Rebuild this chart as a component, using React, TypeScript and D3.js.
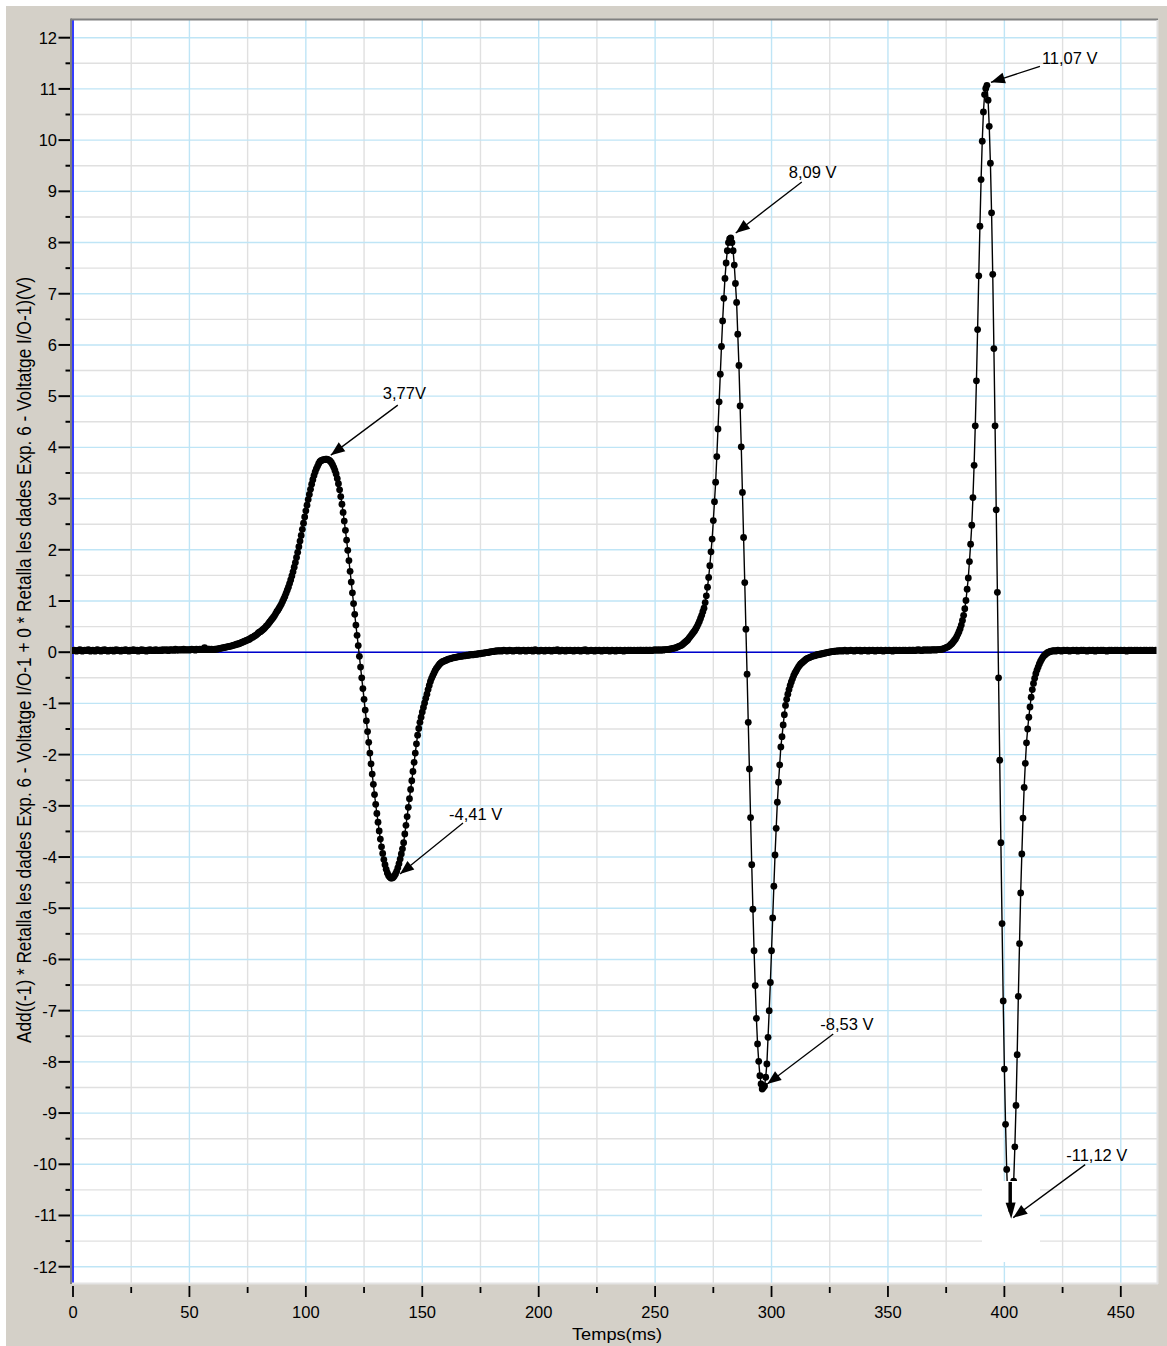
import React from "react";
import * as d3 from "d3";

// Sampling interval of the logger (ms)
const SAMPLE_MS = 0.5;

// Recorded voltage (V), one array per stretch of the record, each with its start time (ms)
const baselineA = [
  0.03, 0.04, 0.03, 0.02, 0.03, 0.04, 0.05, 0.03, 0.02, 0.03,
  0.04, 0.03, 0.03, 0.05, 0.04, 0.02, 0.03, 0.04, 0.03, 0.02,
  0.04, 0.05, 0.03, 0.03, 0.02, 0.04, 0.03, 0.05, 0.04, 0.03,
  0.02, 0.03, 0.04, 0.03, 0.04, 0.02, 0.03, 0.05, 0.03, 0.04,
  0.03, 0.02, 0.04, 0.03, 0.03, 0.05, 0.04, 0.03, 0.02, 0.04,
  0.03, 0.04, 0.05, 0.03, 0.03, 0.04, 0.02, 0.03, 0.04, 0.05,
  0.03, 0.04, 0.03, 0.02, 0.04, 0.03, 0.05, 0.04, 0.03, 0.04,
  0.03, 0.05, 0.04, 0.03, 0.04, 0.04, 0.03, 0.05, 0.04, 0.04,
  0.05, 0.04, 0.03, 0.05, 0.04, 0.05, 0.04, 0.04, 0.06, 0.04,
  0.05, 0.04, 0.05, 0.05, 0.04, 0.06, 0.05, 0.04, 0.05, 0.05,
  0.04, 0.05, 0.06, 0.05, 0.05, 0.04, 0.06, 0.05, 0.05, 0.06,
  0.05, 0.06, 0.05, 0.09, 0.06, 0.05, 0.06, 0.06, 0.05, 0.06,
];
const baselineAStart = 0;

const pulse1 = [
  0.05, 0.05, 0.06, 0.06, 0.06, 0.07, 0.07, 0.08, 0.08, 0.09,
  0.09, 0.10, 0.10, 0.11, 0.11, 0.12, 0.12, 0.13, 0.14, 0.14,
  0.15, 0.16, 0.16, 0.17, 0.18, 0.19, 0.20, 0.21, 0.22, 0.23,
  0.24, 0.25, 0.26, 0.28, 0.29, 0.30, 0.32, 0.33, 0.35, 0.37,
  0.39, 0.40, 0.42, 0.44, 0.46, 0.48, 0.51, 0.53, 0.56, 0.59,
  0.62, 0.65, 0.68, 0.71, 0.75, 0.79, 0.82, 0.86, 0.90, 0.94,
  0.99, 1.04, 1.09, 1.15, 1.21, 1.27, 1.34, 1.41, 1.49, 1.57,
  1.66, 1.75, 1.85, 1.95, 2.06, 2.17, 2.28, 2.40, 2.52, 2.64,
  2.76, 2.87, 2.98, 3.08, 3.18, 3.28, 3.37, 3.45, 3.52, 3.58,
  3.63, 3.68, 3.72, 3.74, 3.75, 3.76, 3.76, 3.77,
  3.77, 3.76, 3.75, 3.73, 3.70, 3.66, 3.61, 3.55, 3.48, 3.39,
  3.29, 3.17, 3.04, 2.89, 2.73, 2.56, 2.38, 2.19, 1.99, 1.79,
  1.58, 1.37, 1.16, 0.95, 0.74, 0.53, 0.33, 0.13, -0.08, -0.29,
  -0.50, -0.71, -0.92, -1.13, -1.34, -1.55, -1.76, -1.97, -2.18, -2.38,
  -2.58, -2.78, -2.97, -3.15, -3.32, -3.49, -3.65, -3.80, -3.93, -4.05,
  -4.15, -4.24, -4.31, -4.36, -4.39, -4.41, -4.41, -4.40, -4.37, -4.33,
  -4.28, -4.21, -4.13, -4.04, -3.94, -3.84, -3.72, -3.55, -3.38, -3.21,
  -3.03, -2.86, -2.68, -2.51, -2.33, -2.15, -1.97, -1.79, -1.62, -1.49,
  -1.37, -1.27, -1.17, -1.08, -0.99, -0.90, -0.82, -0.73, -0.65, -0.57,
  -0.51, -0.46, -0.41, -0.36, -0.32, -0.29, -0.26, -0.23, -0.21, -0.19,
  -0.18, -0.17, -0.16, -0.15, -0.14, -0.13, -0.13, -0.12, -0.11, -0.11,
  -0.10, -0.10, -0.09, -0.09, -0.08, -0.08, -0.08, -0.07, -0.07, -0.07,
  -0.06, -0.06, -0.06, -0.05, -0.05, -0.05, -0.05, -0.04, -0.04, -0.04,
  -0.03, -0.03, -0.03, -0.02, -0.02, -0.02, -0.01, -0.01, -0.01, 0.0,
  0.0, 0.01, 0.01, 0.01,
];
const pulse1Start = 60;

const baselineB = [
  0.02, 0.02, 0.03, 0.02, 0.03, 0.03, 0.02, 0.03, 0.04, 0.03,
  0.03, 0.02, 0.03, 0.04, 0.03, 0.03, 0.02, 0.03, 0.03, 0.04,
  0.03, 0.04, 0.02, 0.03, 0.03, 0.04, 0.03, 0.02, 0.03, 0.04,
  0.03, 0.03, 0.04, 0.02, 0.03, 0.05, 0.03, 0.03, 0.02, 0.03,
  0.04, 0.03, 0.03, 0.02, 0.04, 0.03, 0.03, 0.04, 0.03, 0.02,
  0.03, 0.04, 0.03, 0.03, 0.05, 0.03, 0.02, 0.03, 0.04, 0.03,
  0.03, 0.02, 0.04, 0.03, 0.03, 0.04, 0.03, 0.03, 0.02, 0.04,
  0.03, 0.03, 0.04, 0.03, 0.02, 0.03, 0.04, 0.03, 0.05, 0.03,
  0.02, 0.03, 0.03, 0.04, 0.03, 0.03, 0.02, 0.04, 0.03, 0.03,
  0.04, 0.03, 0.02, 0.03, 0.04, 0.03, 0.03, 0.04, 0.03, 0.02,
  0.03, 0.04, 0.03, 0.03, 0.02, 0.04, 0.03, 0.03, 0.04, 0.03,
  0.03, 0.02, 0.04, 0.03, 0.03, 0.04, 0.03, 0.04, 0.03, 0.03,
  0.04, 0.03, 0.03, 0.04, 0.03, 0.04, 0.04, 0.03, 0.04, 0.03,
  0.04, 0.04, 0.03, 0.04, 0.04, 0.03, 0.04, 0.04, 0.05, 0.04,
  0.04, 0.05, 0.04, 0.04, 0.05, 0.04, 0.05, 0.05,
];
const baselineBStart = 181;

const pulse2 = [
  0.05, 0.05, 0.06, 0.06, 0.07, 0.07, 0.08, 0.08, 0.09, 0.10,
  0.11, 0.12, 0.13, 0.14, 0.16, 0.18, 0.20, 0.22, 0.24, 0.27,
  0.30, 0.33, 0.36, 0.39, 0.42, 0.46, 0.50, 0.55, 0.60, 0.66,
  0.72, 0.79, 0.86, 0.97, 1.10, 1.27, 1.46, 1.69, 1.96, 2.21,
  2.57, 2.94, 3.32, 3.82, 4.36, 4.89, 5.43, 5.97, 6.47, 6.91,
  7.30, 7.60, 7.84, 8.00, 8.07, 8.09, 8.00, 7.84, 7.56, 7.20,
  6.83, 6.21, 5.60, 4.81, 4.01, 3.12, 2.24, 1.36, 0.45, -0.43,
  -1.37, -2.28, -3.23, -4.15, -5.02, -5.83, -6.51, -7.15, -7.65, -7.99,
  -8.27, -8.43, -8.53, -8.50, -8.47, -8.30, -8.04, -7.52, -7.00, -6.45,
  -5.83, -5.19, -4.57, -3.96, -3.44, -2.93, -2.54, -2.20, -1.85, -1.65,
  -1.42, -1.22, -1.04, -0.92, -0.82, -0.73, -0.65, -0.58, -0.52, -0.46,
  -0.41, -0.37, -0.33, -0.29, -0.26, -0.23, -0.21, -0.19, -0.17, -0.15,
  -0.13, -0.12, -0.11, -0.10, -0.09, -0.08, -0.07, -0.07, -0.06, -0.05,
  -0.05, -0.04, -0.04, -0.03, -0.03, -0.02, -0.02, -0.01, -0.01, 0.0,
  0.0, 0.01, 0.01,
];
const pulse2Start = 255;

const baselineC = [
  0.01, 0.02, 0.02, 0.02, 0.03, 0.02, 0.03, 0.03, 0.02, 0.03,
  0.04, 0.03, 0.02, 0.03, 0.03, 0.04, 0.03, 0.03, 0.02, 0.03,
  0.04, 0.03, 0.03, 0.04, 0.02, 0.03, 0.03, 0.04, 0.03, 0.03,
  0.02, 0.04, 0.03, 0.03, 0.04, 0.03, 0.02, 0.03, 0.04, 0.03,
  0.03, 0.04, 0.03, 0.02, 0.03, 0.04, 0.03, 0.03, 0.04, 0.03,
  0.03, 0.02, 0.04, 0.03, 0.04, 0.03, 0.03, 0.04, 0.03, 0.03,
  0.04, 0.03, 0.04, 0.03, 0.03, 0.04, 0.04, 0.03, 0.04, 0.04,
  0.03, 0.04, 0.04, 0.05, 0.04, 0.04, 0.03, 0.04, 0.05, 0.04,
  0.04, 0.05, 0.04, 0.04, 0.05, 0.04, 0.05, 0.05, 0.04, 0.05,
  0.05,
];
const baselineCStart = 326.5;

const pulse3 = [
  0.05, 0.05, 0.06, 0.06, 0.07, 0.08, 0.09, 0.10, 0.11, 0.13,
  0.15, 0.17, 0.20, 0.23, 0.26, 0.30, 0.35, 0.40, 0.46, 0.53,
  0.62, 0.72, 0.85, 1.01, 1.23, 1.45, 1.77, 2.11, 2.48, 3.02,
  3.65, 4.42, 5.30, 6.30, 7.35, 8.32, 9.23, 9.98, 10.55, 10.89,
  11.01, 11.07, 10.78, 10.27, 9.55, 8.58, 7.38, 5.93, 4.42, 2.78,
  1.17, -0.50, -2.11, -3.72, -5.30, -6.81, -8.14, -9.22, -10.10, -10.70,
  -11.02, -11.12, -11.05, -10.80, -10.33, -9.66, -8.85, -7.86, -6.72, -5.69,
  -4.70, -3.94, -3.24, -2.64, -2.17, -1.77, -1.50, -1.27, -1.07, -0.88,
  -0.73, -0.61, -0.51, -0.42, -0.35, -0.29, -0.23, -0.18, -0.14, -0.10,
  -0.07, -0.05, -0.03, -0.01, 0.0, 0.01, 0.02,
];
const pulse3Start = 372;

const baselineD = [
  0.02, 0.03, 0.03, 0.02, 0.03, 0.04, 0.03, 0.03, 0.02, 0.03,
  0.04, 0.03, 0.03, 0.04, 0.03, 0.02, 0.03, 0.03, 0.04, 0.03,
  0.03, 0.04, 0.02, 0.03, 0.03, 0.04, 0.03, 0.04, 0.03, 0.03,
  0.02, 0.03, 0.04, 0.03, 0.03, 0.04, 0.03, 0.02, 0.03, 0.04,
  0.03, 0.03, 0.04, 0.03, 0.04, 0.03, 0.03, 0.02, 0.03, 0.04,
  0.03, 0.04, 0.03, 0.03, 0.04, 0.03, 0.04, 0.03, 0.03, 0.04,
  0.03, 0.03, 0.04, 0.03, 0.02, 0.03, 0.04, 0.03, 0.04, 0.03,
  0.03, 0.04, 0.03, 0.04, 0.03, 0.03, 0.04, 0.03, 0.03, 0.04,
  0.03, 0.04, 0.03, 0.03, 0.04, 0.03, 0.04, 0.03, 0.03, 0.04,
  0.03, 0.04,
];
const baselineDStart = 420.5;

// Peak annotations
const peakTimes = [109, 137, 282.5, 296, 392.5, 402.5];
const peakValues = [3.77, -4.41, 8.09, -8.53, 11.07, -11.12];
const peakLabels = ["3,77V", "-4,41 V", "8,09 V", "-8,53 V", "11,07 V", "-11,12 V"];

// Axis ticks
const xMajorTicks = [0, 50, 100, 150, 200, 250, 300, 350, 400, 450];
const xMinorTicks = [25, 75, 125, 175, 225, 275, 325, 375, 425];
const yMajorTicks = d3.range(-12, 13, 1);
const yMinorTicks = d3.range(-11.5, 12, 1);

const xTitle = "Temps(ms)";
const yTitle =
  "Add((-1) * Retalla les dades Exp. 6 - Voltatge I/O-1 + 0 * Retalla les dades Exp. 6 - Voltatge I/O-1)(V)";

// Layout
const W = 1167;
const H = 1346;
const PLOT = { left: 72, right: 1157, top: 20, bottom: 1283 };
const FONT = "'Liberation Sans', Arial, Helvetica, sans-serif";
const FRAME = "#d4d0c8";
const GRID_MAJOR = "#bfe5f6";
const GRID_MINOR = "#e0e0e0";

// label placement relative to the annotated sample (px): text, arrow start, arrow tip
const labelOffsets = [
  { tx: 56, ty: -60, sx: 71, sy: -54, ex: 4, ey: -4 },
  { tx: 57, ty: -58, sx: 71, sy: -55, ex: 8, ey: -4 },
  { tx: 58, ty: -60, sx: 71, sy: -56, ex: 5, ey: -5 },
  { tx: 58, ty: -59, sx: 71, sy: -55, ex: 5, ey: -5 },
  { tx: 55, ty: -21, sx: 53, sy: -19, ex: 4, ey: -3 },
  { tx: 56, ty: -61, sx: 75, sy: -57, ex: 3, ey: -4 },
];

function arrowHead(x1: number, y1: number, x2: number, y2: number, len = 14, half = 5.5) {
  const a = Math.atan2(y2 - y1, x2 - x1);
  const bx = x2 - len * Math.cos(a);
  const by = y2 - len * Math.sin(a);
  const px = -Math.sin(a) * half;
  const py = Math.cos(a) * half;
  return `M${x2},${y2}L${bx + px},${by + py}L${bx - px},${by - py}Z`;
}

export default function App() {
  const x = d3.scaleLinear().domain([0, 450]).range([73, 1120.8]);
  const y = d3.scaleLinear().domain([-12, 12]).range([1266.7, 37.7]);

  const segments = [
    { start: baselineAStart, values: baselineA },
    { start: pulse1Start, values: pulse1 },
    { start: baselineBStart, values: baselineB },
    { start: pulse2Start, values: pulse2 },
    { start: baselineCStart, values: baselineC },
    { start: pulse3Start, values: pulse3 },
    { start: baselineDStart, values: baselineD },
  ];
  const data = segments.flatMap((s) =>
    s.values.map((v, i) => ({ t: s.start + i * SAMPLE_MS, v }))
  );

  const line = d3
    .line<{ t: number; v: number }>()
    .x((d) => x(d.t))
    .y((d) => y(d.v));

  const pw = PLOT.right - PLOT.left;
  const ph = PLOT.bottom - PLOT.top;

  // pointer drawn on the lowest peak, inside the blanked area
  const lowX = x(peakTimes[5]);
  const lowY = y(peakValues[5]);

  return (
    <svg
      width={W}
      height={H}
      style={{ position: "absolute", left: 0, top: 0, display: "block" }}
      fontFamily={FONT}
    >
      <defs>
        <clipPath id="plot-clip">
          <rect x={PLOT.left} y={PLOT.top} width={pw} height={ph} />
        </clipPath>
      </defs>
      <rect x={0} y={0} width={W} height={H} fill="#ffffff" />
      <rect x={6} y={6} width={W - 6} height={H - 6} fill={FRAME} />
      <rect x={PLOT.left} y={PLOT.top} width={pw} height={ph} fill="#ffffff" />

      <g clipPath="url(#plot-clip)">
        {/* grid */}
        {yMinorTicks.map((v) => (
          <line key={`gy${v}`} x1={PLOT.left} x2={PLOT.right} y1={y(v)} y2={y(v)} stroke={GRID_MINOR} strokeWidth={1.4} />
        ))}
        {xMinorTicks.map((t) => (
          <line key={`gx${t}`} x1={x(t)} x2={x(t)} y1={PLOT.top} y2={PLOT.bottom} stroke={GRID_MINOR} strokeWidth={1.4} />
        ))}
        {yMajorTicks.map((v) => (
          <line key={`Gy${v}`} x1={PLOT.left} x2={PLOT.right} y1={y(v)} y2={y(v)} stroke={GRID_MAJOR} strokeWidth={1.4} />
        ))}
        {xMajorTicks.map((t) => (
          <line key={`Gx${t}`} x1={x(t)} x2={x(t)} y1={PLOT.top} y2={PLOT.bottom} stroke={GRID_MAJOR} strokeWidth={1.4} />
        ))}

        {/* zero axes */}
        <line x1={x(0)} x2={x(0)} y1={PLOT.top} y2={PLOT.bottom} stroke="#0000ff" strokeWidth={1.5} />
        <line x1={PLOT.left} x2={PLOT.right} y1={y(0)} y2={y(0)} stroke="#0000cc" strokeWidth={1.6} />

        {/* trace */}
        <path d={line(data) || ""} fill="none" stroke="#000" strokeWidth={1.4} />
        {data.map((d, i) => (
          <circle key={i} cx={x(d.t)} cy={y(d.v)} r={3.4} fill="#000" />
        ))}

        {/* blanked area around the lowest sample */}
        <rect x={982} y={1181} width={58} height={81} fill="#ffffff" />
        <line x1={lowX} x2={lowX} y1={1182} y2={lowY - 10} stroke="#000" strokeWidth={3.5} />
        <path d={arrowHead(lowX, lowY - 30, lowX + 1, lowY - 3, 16, 5)} fill="#000" />
      </g>

      {/* plot border */}
      <line x1={PLOT.left - 1} x2={PLOT.right + 1} y1={PLOT.top - 0.5} y2={PLOT.top - 0.5} stroke="#808080" strokeWidth={2} />
      <line x1={PLOT.left - 1} x2={PLOT.left - 1} y1={PLOT.top - 1.5} y2={PLOT.bottom + 1} stroke="#808080" strokeWidth={2} />
      <line x1={PLOT.left} x2={PLOT.right + 1} y1={PLOT.bottom + 0.5} y2={PLOT.bottom + 0.5} stroke="#e4e4e4" strokeWidth={2} />
      <line x1={PLOT.right + 0.5} x2={PLOT.right + 0.5} y1={PLOT.top} y2={PLOT.bottom + 1} stroke="#e4e4e4" strokeWidth={2} />

      {/* annotations */}
      {peakTimes.map((t, i) => {
        const px = x(t);
        const py = y(peakValues[i]);
        const o = labelOffsets[i];
        const sx = px + o.sx;
        const sy = py + o.sy;
        const ex = px + o.ex;
        const ey = py + o.ey;
        return (
          <g key={`lab${i}`}>
            <line x1={sx} y1={sy} x2={ex} y2={ey} stroke="#000" strokeWidth={1.3} />
            <path d={arrowHead(sx, sy, ex, ey)} fill="#000" />
            <text x={px + o.tx} y={py + o.ty} fontSize={16.5} fill="#000">
              {peakLabels[i]}
            </text>
          </g>
        );
      })}

      {/* y axis */}
      {yMajorTicks.map((v) => (
        <g key={`yt${v}`}>
          <line x1={58.5} x2={70} y1={y(v)} y2={y(v)} stroke="#000" strokeWidth={2} />
          <text x={57} y={y(v) + 6} fontSize={16.5} textAnchor="end" fill="#000">
            {v}
          </text>
        </g>
      ))}
      {yMinorTicks.map((v) => (
        <line key={`ym${v}`} x1={65.5} x2={70} y1={y(v)} y2={y(v)} stroke="#000" strokeWidth={2} />
      ))}

      {/* x axis */}
      {xMajorTicks.map((t) => (
        <g key={`xt${t}`}>
          <line x1={x(t)} x2={x(t)} y1={1286} y2={1297} stroke="#000" strokeWidth={1.8} />
          <text x={x(t)} y={1318} fontSize={16.5} textAnchor="middle" fill="#000">
            {t}
          </text>
        </g>
      ))}
      {xMinorTicks.map((t) => (
        <line key={`xm${t}`} x1={x(t)} x2={x(t)} y1={1287} y2={1293} stroke="#000" strokeWidth={1.8} />
      ))}

      <text x={617} y={1340} fontSize={17} textAnchor="middle" fill="#000" textLength={90} lengthAdjust="spacingAndGlyphs">
        {xTitle}
      </text>
      <text
        transform="translate(31, 660) rotate(-90)"
        fontSize={21}
        textAnchor="middle"
        fill="#000"
        textLength={766}
        lengthAdjust="spacingAndGlyphs"
      >
        {yTitle}
      </text>
    </svg>
  );
}
